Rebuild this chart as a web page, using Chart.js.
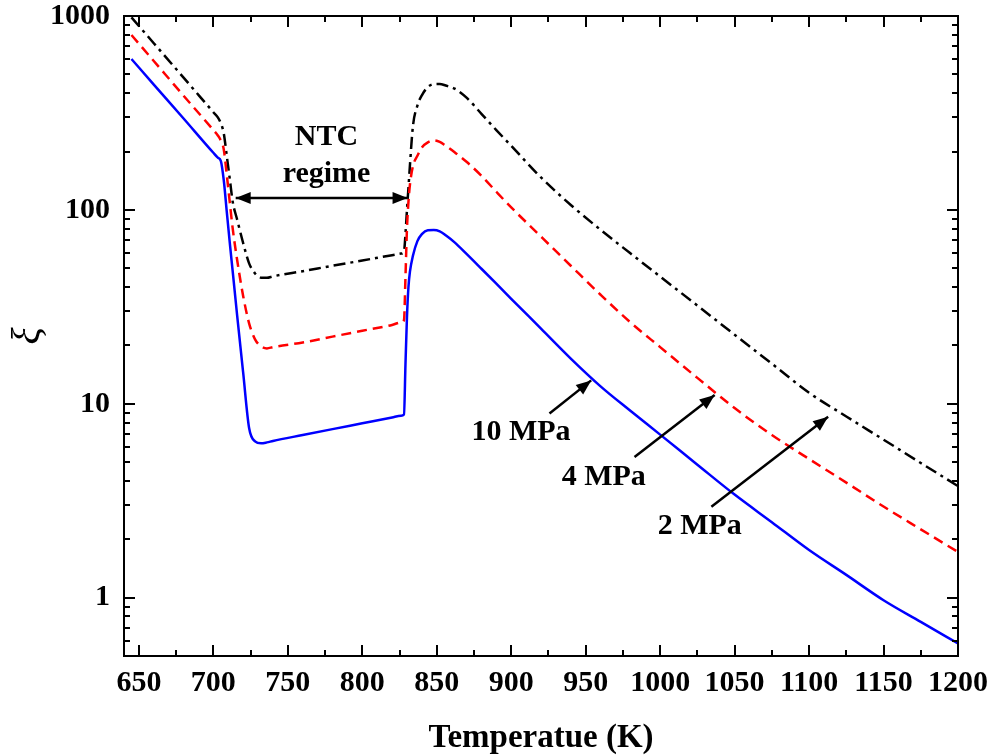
<!DOCTYPE html>
<html>
<head>
<meta charset="utf-8">
<script src="https://cdn.jsdelivr.net/npm/chart.js@4.4.0/dist/chart.umd.min.js"></script>
<style>
  body { margin: 0; background: #fff; }
  #wrap { width: 993px; height: 755px; }
</style>
</head>
<body>
<div id="wrap"><canvas id="xi-chart" width="993" height="755"></canvas></div>
<script>
const temps = [645, 660, 680, 700, 703, 705, 707, 709, 711, 713, 716, 720, 724, 728, 732, 736, 740, 760, 780, 800,
  820, 826, 828, 829, 830, 831, 832, 834, 837, 840, 844, 848, 852, 856, 862, 870, 880, 890, 900, 920,
  940, 960, 980, 1000, 1025, 1050, 1075, 1100, 1125, 1150, 1175, 1200];

const xi10MPa = [600, 443, 296, 197, 186, 179, 142, 98, 68, 48, 28.4, 14.5, 7.5, 6.4, 6.25, 6.32, 6.43, 6.9, 7.4, 7.93,
  8.5, 8.67, 8.8, 16, 28, 40, 48, 58, 69, 75, 78.5, 78.7, 77.5, 74, 68, 59.3, 49.7, 41.6, 34.8, 24.4,
  17.1, 12.3, 9.2, 6.93, 4.85, 3.40, 2.45, 1.76, 1.31, 0.97, 0.75, 0.58];

const xi4MPa = [798, 586, 388, 258, 242, 228, 205, 152, 110, 80, 55, 36, 26, 21.5, 19.8, 19.3, 19.6, 20.7, 22.2, 23.8,
  25.5, 26.3, 27, 45, 80, 110, 135, 168, 190, 210, 223, 228, 224, 214, 198, 177, 150, 124, 103, 72.8,
  51.5, 36.5, 26.3, 19.6, 13.6, 9.5, 6.9, 5.19, 3.92, 2.95, 2.25, 1.72];

const xi2MPa = [984, 724, 481, 319, 300, 280, 248, 190, 145, 110, 89, 67.5, 53, 47, 44.7, 44.6, 45.4, 48.3, 51.5, 54.8,
  58.4, 59.5, 61, 75, 100, 130, 170, 270, 345, 390, 430, 445, 446, 438, 422, 379, 313, 258, 214, 147,
  106, 78.9, 59.7, 45.3, 32.1, 22.7, 16.1, 11.4, 8.6, 6.53, 4.95, 3.76];

const xTicks = [650, 700, 750, 800, 850, 900, 950, 1000, 1050, 1100, 1150, 1200];
const yTicks = [1, 10, 100, 1000];

const serif = '"Liberation Serif", "Times New Roman", serif';

// minor tick positions
const xMinor = xTicks.slice(1).map(v => v - 25);
const yMinor = [];
[0.1, 1, 10, 100].forEach(d => {
  for (let k = 2; k <= 9; k++) {
    const v = d * k;
    if (v >= 0.5 && v < 1000) yMinor.push(v);
  }
});

const frameTicks = {
  id: 'frameTicks',
  afterDraw(chart) {
    const {ctx, chartArea: a, scales: {x, y}} = chart;
    ctx.save();
    ctx.strokeStyle = '#000';
    ctx.lineWidth = 2;
    ctx.strokeRect(a.left, a.top, a.right - a.left, a.bottom - a.top);
    ctx.beginPath();
    const xt = (v, len) => {
      const p = Math.round(x.getPixelForValue(v));
      ctx.moveTo(p, a.bottom); ctx.lineTo(p, a.bottom - len);
      ctx.moveTo(p, a.top); ctx.lineTo(p, a.top + len);
    };
    const yt = (v, len) => {
      const p = Math.round(y.getPixelForValue(v));
      ctx.moveTo(a.left, p); ctx.lineTo(a.left + len, p);
      ctx.moveTo(a.right, p); ctx.lineTo(a.right - len, p);
    };
    xTicks.forEach(v => xt(v, 11));
    xMinor.forEach(v => xt(v, 6));
    yTicks.forEach(v => yt(v, 11));
    yMinor.forEach(v => yt(v, 6));
    ctx.stroke();
    ctx.restore();
  }
};

function arrowHead(ctx, x1, y1, x2, y2) {
  const ang = Math.atan2(y2 - y1, x2 - x1);
  const len = 15, half = 6;
  ctx.beginPath();
  ctx.moveTo(x2, y2);
  ctx.lineTo(x2 - len * Math.cos(ang) + half * Math.sin(ang), y2 - len * Math.sin(ang) - half * Math.cos(ang));
  ctx.lineTo(x2 - len * Math.cos(ang) - half * Math.sin(ang), y2 - len * Math.sin(ang) + half * Math.cos(ang));
  ctx.closePath();
  ctx.fill();
}

function arrow(ctx, x1, y1, x2, y2, both) {
  ctx.beginPath();
  ctx.moveTo(x1, y1);
  ctx.lineTo(x2, y2);
  ctx.stroke();
  arrowHead(ctx, x1, y1, x2, y2);
  if (both) arrowHead(ctx, x2, y2, x1, y1);
}

const notes = {
  id: 'notes',
  afterDatasetsDraw(chart) {
    const {ctx, scales: {x, y}} = chart;
    const px = t => x.getPixelForValue(t);
    const py = v => y.getPixelForValue(v);
    ctx.save();
    ctx.strokeStyle = '#000';
    ctx.fillStyle = '#000';
    ctx.lineWidth = 2.5;

    arrow(ctx, px(715), py(115), px(830.4), py(115), true);
    arrow(ctx, px(925.7), py(8.91), px(953.7), py(13.2));
    arrow(ctx, px(982.8), py(5.32), px(1036.6), py(11.1));
    arrow(ctx, px(1034.4), py(2.94), px(1112.8), py(8.56));

    ctx.font = 'bold 30px ' + serif;
    ctx.textAlign = 'center';
    ctx.textBaseline = 'alphabetic';
    ctx.fillText('NTC', px(776), py(216));
    ctx.fillText('regime', px(776), py(140));
    ctx.fillText('10 MPa', px(906.6), py(6.49));
    ctx.fillText('4 MPa', px(962.1), py(3.8));
    ctx.fillText('2 MPa', px(1026.6), py(2.14));
    ctx.restore();
  }
};

const noPad = scale => {
  scale.paddingTop = 0;
  scale.paddingBottom = 0;
  scale.paddingLeft = 0;
  scale.paddingRight = 0;
};

const toPoints = vals => temps.map((t, i) => ({x: t, y: vals[i]}));

new Chart(document.getElementById('xi-chart'), {
  type: 'line',
  data: {
    datasets: [{
      label: '10 MPa',
      data: toPoints(xi10MPa),
      borderColor: '#0000ff',
      borderWidth: 2.5
    }, {
      label: '4 MPa',
      data: toPoints(xi4MPa),
      borderColor: '#ff0000',
      borderWidth: 2.5,
      borderDash: [10, 6]
    }, {
      label: '2 MPa',
      data: toPoints(xi2MPa),
      borderColor: '#000000',
      borderWidth: 2.5,
      borderDash: [12, 5, 3, 5]
    }]
  },
  options: {
    responsive: false,
    animation: false,
    events: [],
    elements: {
      point: { radius: 0 },
      line: { cubicInterpolationMode: 'monotone' }
    },
    layout: { padding: { left: 0, right: 35, top: 16, bottom: 0 } },
    plugins: {
      legend: { display: false },
      tooltip: { enabled: false }
    },
    scales: {
      x: {
        type: 'linear',
        min: 640,
        max: 1200,
        afterBuildTicks: scale => { scale.ticks = xTicks.map(v => ({value: v})); },
        afterFit: scale => { scale.height = 99; noPad(scale); },
        grid: { display: false, drawTicks: false },
        border: { display: false },
        ticks: {
          padding: 9,
          color: '#000',
          maxRotation: 0,
          font: { family: serif, size: 30, weight: 'bold' },
          callback: v => String(v)
        },
        title: {
          display: true,
          text: 'Temperatue (K)',
          color: '#000',
          padding: { top: 0, bottom: 0 },
          font: { family: serif, size: 33, weight: 'bold', lineHeight: 1 }
        }
      },
      y: {
        type: 'logarithmic',
        min: 0.5,
        max: 1000,
        afterBuildTicks: scale => { scale.ticks = yTicks.map(v => ({value: v})); },
        afterFit: scale => { scale.width = 124; noPad(scale); },
        grid: { display: false, drawTicks: false },
        border: { display: false },
        ticks: {
          padding: 14,
          color: '#000',
          font: { family: serif, size: 30, weight: 'bold' },
          callback: v => String(v)
        },
        title: {
          display: true,
          text: 'ξ',
          color: '#000',
          padding: { top: 8, bottom: 0 },
          font: { family: serif, size: 40, style: 'italic', lineHeight: 1 }
        }
      }
    }
  },
  plugins: [frameTicks, notes]
});
</script>
</body>
</html>
